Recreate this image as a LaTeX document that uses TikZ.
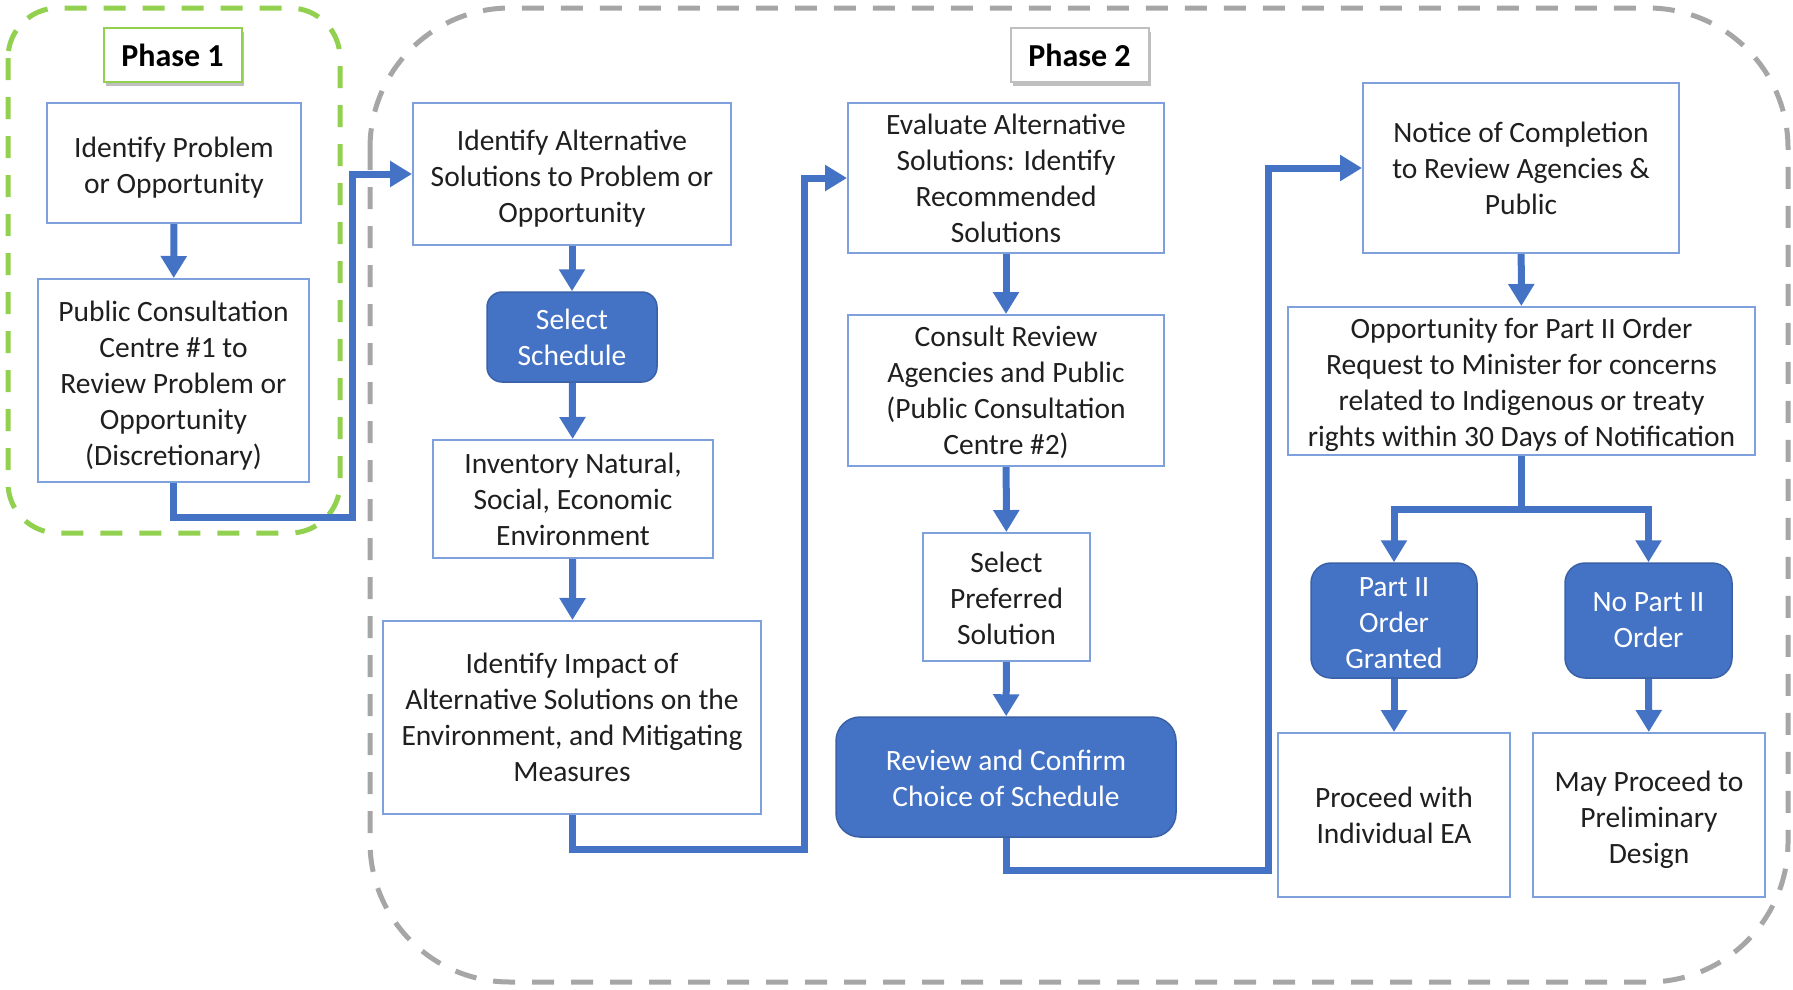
\documentclass[tikz,border=0pt]{standalone}
\usepackage{fontspec}
\setmainfont{Carlito}
\usetikzlibrary{arrows.meta,shadows,calc}
\definecolor{bfill}{HTML}{4472C4}
\definecolor{bline}{HTML}{7EA1DD}
\definecolor{dgray}{HTML}{A6A6A6}
\definecolor{dgreen}{HTML}{92D050}
\definecolor{txt}{HTML}{1F1F1F}
\definecolor{pgray}{HTML}{BFBFBF}
\newcommand\dnstrut[1]{\rule{0pt}{#1}}
\tikzset{
  every node/.style={font=\fontsize{29.5}{36}\selectfont, align=center, text=txt, inner sep=0pt},
  wbox/.style={draw=bline, line width=2pt, fill=white},
  bbox/.style={draw=bfill!85!black, line width=1.5pt, fill=bfill, text=white, rounded corners=18pt},
  phasebox/.style={draw=#1, line width=2pt, fill=white, font=\fontsize{32}{36}\selectfont\bfseries, text=black,
    minimum width=138pt, minimum height=54pt,
    drop shadow={shadow xshift=2pt, shadow yshift=-4pt, fill=black!50, opacity=0.5}},
  arr/.style={draw=bfill, line width=7pt, -{Triangle[width=25pt,length=22pt]}, line join=miter},
  seg/.style={draw=bfill, line width=7pt, line join=miter},
  frame/.style={line width=5pt, dash pattern=on 22pt off 17pt}
}
\begin{document}
\begin{tikzpicture}[x=1pt,y=-1pt]
\useasboundingbox (0,0) rectangle (1793,989);
% dashed frames
\draw[frame, draw=dgreen, rounded corners=50pt] (8,8) rectangle (340,533);
\draw[frame, draw=dgray, rounded corners=140pt] (370,8) rectangle (1788,982);

% phase labels
\node[phasebox=dgreen] (p1) at (172.5,55) {Phase 1};
\node[phasebox=pgray] (p2) at (1079.5,55) {Phase 2};

% column 1
\node[wbox, minimum width=254pt, minimum height=120pt] (ip) at (174,163) {\dnstrut{30pt}Identify Problem\\or Opportunity};
\node[wbox, minimum width=271pt, minimum height=203pt] (pc) at (173.5,380.5) {\dnstrut{30pt}Public Consultation\\Centre \#1 to\\Review Problem or\\Opportunity\\(Discretionary)};

% column 2
\node[wbox, minimum width=318pt, minimum height=142pt] (ia) at (572,174) {\dnstrut{29pt}Identify Alternative\\Solutions to Problem or\\Opportunity};
\node[bbox, minimum width=170pt, minimum height=90pt, rounded corners=15pt] (ss) at (572,337) {Select\\Schedule};
\node[wbox, minimum width=280pt, minimum height=118pt] (inv) at (573,499) {Inventory Natural,\\Social, Economic\\Environment};
\node[wbox, minimum width=378pt, minimum height=193pt] (im) at (572,717.5) {Identify Impact of\\Alternative Solutions on the\\Environment, and Mitigating\\Measures};

% column 3
\node[wbox, minimum width=316pt, minimum height=150pt] (ev) at (1006,178) {Evaluate Alternative\\Solutions: Identify\\Recommended\\Solutions};
\node[wbox, minimum width=316pt, minimum height=151pt] (cr) at (1006,390.5) {\dnstrut{25pt}Consult Review\\Agencies and Public\\(Public Consultation\\Centre \#2)};
\node[wbox, minimum width=167pt, minimum height=128pt] (sp) at (1006.5,597) {\dnstrut{24pt}Select\\Preferred\\Solution};
\node[bbox, minimum width=340pt, minimum height=120pt, rounded corners=24pt] (rc) at (1006,777) {\dnstrut{24pt}Review and Confirm\\Choice of Schedule};

% column 4
\node[wbox, minimum width=316pt, minimum height=170pt] (no) at (1521,168) {Notice of Completion\\to Review Agencies \&\\Public};
\node[wbox, minimum width=467pt, minimum height=148pt] (op) at (1521.5,381) {\dnstrut{29pt}Opportunity for Part II Order\\Request to Minister for concerns\\related to Indigenous or treaty\\rights within 30 Days of Notification};
\node[bbox, minimum width=166pt, minimum height=115pt, rounded corners=20pt] (pg) at (1394,620.5) {\dnstrut{24pt}Part II\\Order\\Granted};
\node[bbox, minimum width=167pt, minimum height=115pt, rounded corners=20pt] (np) at (1648.5,620.5) {No Part II\\Order};
\node[wbox, minimum width=232pt, minimum height=164pt] (pw) at (1394,815) {Proceed with\\Individual EA};
\node[wbox, minimum width=232pt, minimum height=164pt] (mp) at (1649,815) {\dnstrut{30pt}May Proceed to\\Preliminary\\Design};

% connectors
\draw[arr] (ip) -- (pc);
\draw[arr] (pc.south) -- ++(0,34) -| ([xshift=-60pt]ia.west) -- (ia.west);
\draw[arr] (ia) -- (ss);
\draw[arr] (ss) -- (inv);
\draw[arr] (inv) -- (im);
\draw[arr] (im.south) -- ++(0,34) -| ([xshift=-43pt]ev.west) -- (ev.west);
\draw[arr] (ev) -- (cr);
\draw[arr] (cr) -- (sp);
\draw[arr] (sp) -- (rc);
\draw[arr] (rc.south) -- ++(0,33) -| ([xshift=-94pt]no.west) -- (no.west);
\draw[arr] (no) -- (op);
\draw[seg] (op.south) -- ++(0,53) coordinate (br);
\draw[arr] (br) -| (pg.north);
\draw[arr] (br) -| (np.north);
\draw[arr] (pg) -- (pw);
\draw[arr] (np) -- (mp);
\end{tikzpicture}
\end{document}
